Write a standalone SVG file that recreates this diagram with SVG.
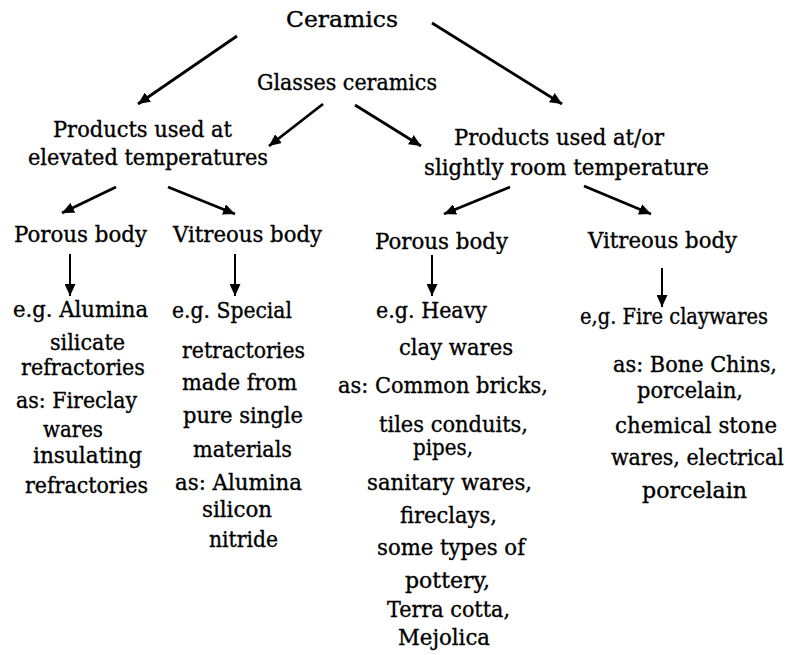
<svg xmlns="http://www.w3.org/2000/svg" width="789" height="655" viewBox="0 0 789 655">
<style>
text{font-family:"DejaVu Serif","Liberation Serif",serif;font-size:22px;fill:#000;stroke:#000;stroke-width:0.35;}
.c line{stroke:#000;stroke-width:2.8;marker-end:url(#ah);}
</style>
<defs>
<marker id="ah" markerUnits="userSpaceOnUse" markerWidth="13" markerHeight="11" refX="12" refY="5.5" orient="auto">
<path d="M0,0 L12,5.5 L0,11 z" fill="#000"/>
</marker>
</defs>
<rect width="789" height="655" fill="#fff"/>
<g id="connectors" class="c">
<line x1="237" y1="36" x2="138" y2="104"/>
<line x1="432" y1="23" x2="562" y2="104"/>
<line x1="323" y1="104" x2="269" y2="146"/>
<line x1="355" y1="105" x2="421" y2="146"/>
<line x1="116" y1="187" x2="62" y2="213"/>
<line x1="168" y1="187" x2="235" y2="214"/>
<line x1="510" y1="187" x2="444" y2="214"/>
<line x1="584" y1="186" x2="651" y2="214"/>
<line x1="70" y1="254" x2="70" y2="296" style="stroke-width:2"/>
<line x1="235" y1="254" x2="235" y2="296" style="stroke-width:2"/>
<line x1="432" y1="255" x2="432" y2="296" style="stroke-width:2"/>
<line x1="662" y1="268" x2="662" y2="307" style="stroke-width:2"/>
</g>
<g id="ceramics"><text x="286" y="27" textLength="112" lengthAdjust="spacingAndGlyphs">Ceramics</text></g>
<g id="glasses"><text x="257" y="90" textLength="180" lengthAdjust="spacingAndGlyphs">Glasses ceramics</text></g>
<g id="elevated">
<text x="53" y="137" textLength="179" lengthAdjust="spacingAndGlyphs">Products used at</text>
<text x="28" y="165" textLength="240" lengthAdjust="spacingAndGlyphs">elevated temperatures</text>
</g>
<g id="room">
<text x="454" y="145" textLength="210" lengthAdjust="spacingAndGlyphs">Products used at/or</text>
<text x="424" y="175" textLength="285" lengthAdjust="spacingAndGlyphs">slightly room temperature</text>
</g>
<g id="porous-left"><text x="14" y="242" textLength="133" lengthAdjust="spacingAndGlyphs">Porous body</text></g>
<g id="vitreous-left"><text x="173" y="242" textLength="149" lengthAdjust="spacingAndGlyphs">Vitreous body</text></g>
<g id="porous-right"><text x="375" y="249" textLength="133" lengthAdjust="spacingAndGlyphs">Porous body</text></g>
<g id="vitreous-right"><text x="588" y="248" textLength="149" lengthAdjust="spacingAndGlyphs">Vitreous body</text></g>
<g id="examples-porous-left">
<text x="13" y="317" textLength="135" lengthAdjust="spacingAndGlyphs">e.g. Alumina</text>
<text x="50" y="350" textLength="75" lengthAdjust="spacingAndGlyphs">silicate</text>
<text x="21" y="375" textLength="124" lengthAdjust="spacingAndGlyphs">refractories</text>
<text x="16" y="408" textLength="121" lengthAdjust="spacingAndGlyphs">as: Fireclay</text>
<text x="43" y="437" textLength="60" lengthAdjust="spacingAndGlyphs">wares</text>
<text x="33" y="463" textLength="109" lengthAdjust="spacingAndGlyphs">insulating</text>
<text x="25" y="493" textLength="123" lengthAdjust="spacingAndGlyphs">refractories</text>
</g>
<g id="examples-vitreous-left">
<text x="172" y="318" textLength="120" lengthAdjust="spacingAndGlyphs">e.g. Special</text>
<text x="182" y="358" textLength="123" lengthAdjust="spacingAndGlyphs">retractories</text>
<text x="182" y="390" textLength="115" lengthAdjust="spacingAndGlyphs">made from</text>
<text x="183" y="423" textLength="120" lengthAdjust="spacingAndGlyphs">pure single</text>
<text x="193" y="457" textLength="99" lengthAdjust="spacingAndGlyphs">materials</text>
<text x="175" y="490" textLength="127" lengthAdjust="spacingAndGlyphs">as: Alumina</text>
<text x="202" y="517" textLength="70" lengthAdjust="spacingAndGlyphs">silicon</text>
<text x="209" y="547" textLength="69" lengthAdjust="spacingAndGlyphs">nitride</text>
</g>
<g id="examples-porous-right">
<text x="376" y="318" textLength="111" lengthAdjust="spacingAndGlyphs">e.g. Heavy</text>
<text x="399" y="355" textLength="114" lengthAdjust="spacingAndGlyphs">clay wares</text>
<text x="338" y="393" textLength="210" lengthAdjust="spacingAndGlyphs">as: Common bricks,</text>
<text x="379" y="432" textLength="149" lengthAdjust="spacingAndGlyphs">tiles conduits,</text>
<text x="413" y="455" textLength="60" lengthAdjust="spacingAndGlyphs">pipes,</text>
<text x="367" y="490" textLength="165" lengthAdjust="spacingAndGlyphs">sanitary wares,</text>
<text x="400" y="523" textLength="97" lengthAdjust="spacingAndGlyphs">fireclays,</text>
<text x="377" y="555" textLength="148" lengthAdjust="spacingAndGlyphs">some types of</text>
<text x="405" y="588" textLength="85" lengthAdjust="spacingAndGlyphs">pottery,</text>
<text x="387" y="617" textLength="123" lengthAdjust="spacingAndGlyphs">Terra cotta,</text>
<text x="398" y="645" textLength="92" lengthAdjust="spacingAndGlyphs">Mejolica</text>
</g>
<g id="examples-vitreous-right">
<text transform="translate(580,324) scale(0.8,1)" x="0" y="0" textLength="235" lengthAdjust="spacingAndGlyphs">e,g. Fire claywares</text>
<text x="613" y="372" textLength="164" lengthAdjust="spacingAndGlyphs">as: Bone Chins,</text>
<text x="637" y="398" textLength="106" lengthAdjust="spacingAndGlyphs">porcelain,</text>
<text x="615" y="433" textLength="162" lengthAdjust="spacingAndGlyphs">chemical stone</text>
<text transform="translate(611,465) scale(0.8,1)" x="0" y="0" textLength="216" lengthAdjust="spacingAndGlyphs">wares, electrical</text>
<text x="642" y="498" textLength="105" lengthAdjust="spacingAndGlyphs">porcelain</text>
</g>
</svg>
